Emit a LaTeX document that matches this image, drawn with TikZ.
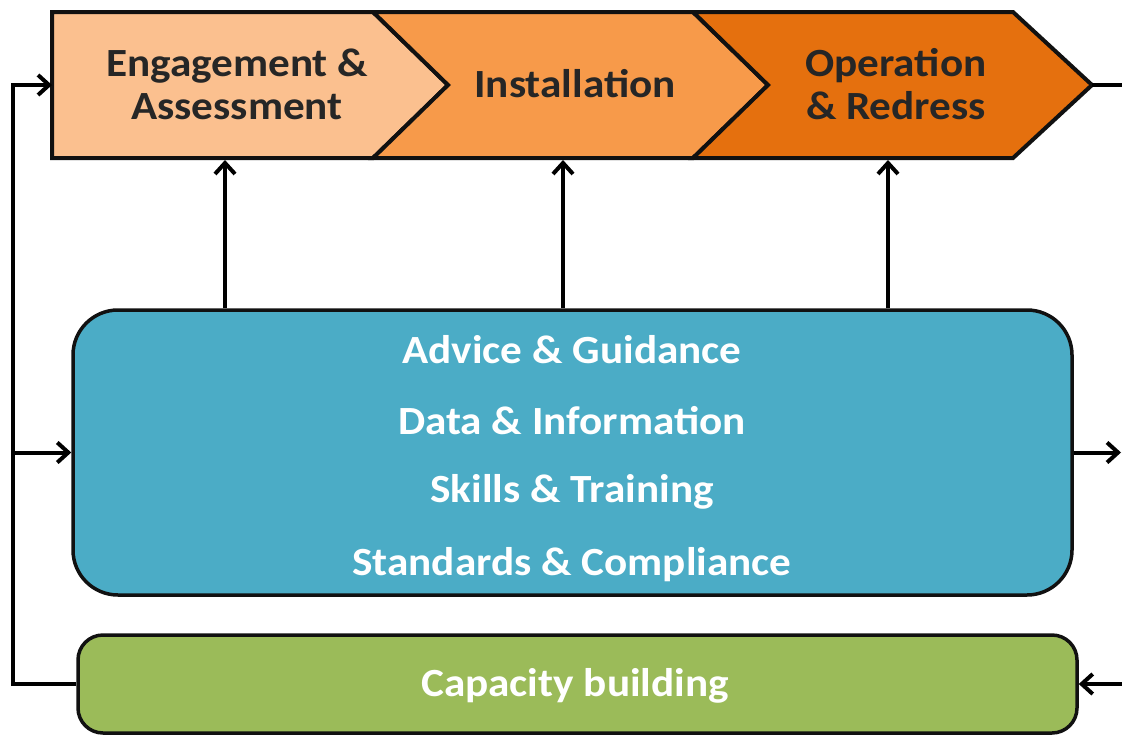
\documentclass[tikz,border=0pt]{standalone}
\usepackage{graphicx}
\usepackage{fontspec}
\setmainfont{Carlito}
\usetikzlibrary{arrows.meta}
\definecolor{peach}{HTML}{FBC08F}
\definecolor{orangemid}{HTML}{F79A4A}
\definecolor{orangedark}{HTML}{E5700E}
\definecolor{tealbox}{HTML}{4BACC6}
\definecolor{greenbox}{HTML}{9BBB59}
\definecolor{outline}{HTML}{111111}
\newcommand{\widetxt}[1]{\scalebox{1.08}[1]{#1}}
\tikzset{
  chev/.style={draw=outline, line width=4pt, line join=miter},
  chevtxt/.style={font=\fontsize{40}{43}\selectfont\bfseries, text=black!85, align=center, inner sep=0pt},
  boxtxt/.style={font=\fontsize{40}{43}\selectfont\bfseries, text=white, inner sep=0pt},
  conn/.style={draw=black, line width=4pt},
  arr/.style={conn, -{Straight Barb[length=11pt,width=20pt,line width=4pt]}},
}
\begin{document}
\begin{tikzpicture}[x=1pt,y=-1pt]
\useasboundingbox (0,0) rectangle (1122,734);
\fill[white] (0,0) rectangle (1122,734);
% chevrons
\draw[chev, fill=peach] (52,12) -- (373,12) -- (448,85) -- (373,158) -- (52,158) -- cycle;
\draw[chev, fill=orangemid] (373,12) -- (693,12) -- (768,85) -- (693,158) -- (373,158) -- (448,85) -- cycle;
\draw[chev, fill=orangedark] (693,12) -- (1013,12) -- (1092,85) -- (1013,158) -- (693,158) -- (768,85) -- cycle;
\node[chevtxt] (eng) at (237,84) {\widetxt{Engagement \&}\\\widetxt{Assessment}};
\node[chevtxt] (ins) at (575,84) {\widetxt{Installation}};
\node[chevtxt] (op) at (896,84) {\widetxt{Operation}\\\widetxt{\& Redress}};
\coordinate (engL) at (52,85);
\coordinate (tip3) at (1092,85);
\coordinate (c1) at (225,160);
\coordinate (c2) at (563,160);
\coordinate (c3) at (888,160);
\coordinate (loopL) at (13,0);
\coordinate (R) at (1122,0);
\coordinate (Rin) at (1121,0);
% boxes
\node[draw=outline, line width=3.5pt, fill=tealbox, rounded corners=45pt, minimum width=999pt, minimum height=285pt] (blue) at (572.5,452.5) {};
\node[draw=outline, line width=3.5pt, fill=greenbox, rounded corners=25pt, minimum width=999pt, minimum height=98pt] (green) at (577.5,684) {};
\node[boxtxt] (t1) at (572,350) {\widetxt{Advice \& Guidance}};
\node[boxtxt] (t2) at (572,421) {\widetxt{Data \& Information}};
\node[boxtxt] (t3) at (572,492) {\widetxt{Skills \& Training}};
\node[boxtxt] (t4) at (572,565) {\widetxt{Standards \& Compliance}};
\node[boxtxt] (t5) at (575,686) {\widetxt{Capacity building}};
% connectors
\draw[arr] (blue.north -| c1) -- (c1);
\draw[arr] (blue.north -| c2) -- (c2);
\draw[arr] (blue.north -| c3) -- (c3);
\draw[arr] (green.west) -- (green.west -| loopL) -- (engL -| loopL) -- (engL);
\draw[arr] (blue.west -| loopL) -- (blue.west);
\draw[conn] (tip3) -- (tip3 -| R);
\draw[arr] (blue.east) -- (blue.east -| Rin);
\draw[arr] (green.east -| R) -- (green.east);
\end{tikzpicture}
\end{document}
